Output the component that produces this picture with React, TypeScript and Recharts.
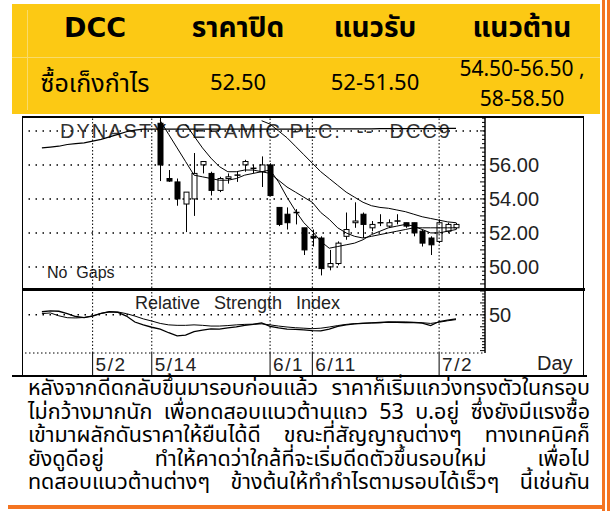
import React from 'react'
import { ComposedChart, LineChart, Line, Bar, XAxis, YAxis, ReferenceLine } from 'recharts'

const FONT_TH = "Tahoma, 'Noto Sans Thai', 'Noto Sans Thai UI', Loma, Garuda, 'Noto Sans', sans-serif"
const FONT_HEAD = "'DejaVu Sans', " + FONT_TH
const FONT_CHART = "'Liberation Sans', Arial, sans-serif"
const YELLOW = '#FCC914'
const ORANGE = '#F47421'

const HEADER = ['DCC', 'ราคาปิด', 'แนวรับ', 'แนวต้าน']
const ROW = ['ซื้อเก็งกำไร', '52.50', '52-51.50']
const RESIST = ['54.50-56.50 ,', '58-58.50']

const TEXT_LINES = [
  'หลังจากดีดกลับขึ้นมารอบก่อนแล้ว ราคาก็เริ่มแกว่งทรงตัวในกรอบ',
  'ไม่กว้างมากนัก เพื่อทดสอบแนวต้านแถว 53 บ.อยู่ ซึ่งยังมีแรงซื้อ',
  'เข้ามาผลักดันราคาให้ยืนได้ดี ขณะที่สัญญาณต่างๆ ทางเทคนิคก็',
  'ยังดูดีอยู่ ทำให้คาดว่าใกล้ที่จะเริ่มดีดตัวขึ้นรอบใหม่ เพื่อไป',
  'ทดสอบแนวต้านต่างๆ ข้างต้นให้ทำกำไรตามรอบได้เร็วๆ นี้เช่นกัน',
]

// trading-day slots on the x axis
const DATE_LABELS = ['5/2', '5/14', '6/1', '6/11', '7/2']
const DATE_INDEX = [8, 15, 29, 34, 49]
const X_DOMAIN = [0, 54.43]

// candles, from slot 16 to 51
const CANDLE_START = 16
const OPEN = [58.45, 55.2, 55.0, 53.7, 54.0, 56.0, 55.5, 54.5, 55.2, 55.4, 56.0, 55.8, 55.6, 56.0, 53.5, 53.1, 53.2, 52.3, 51.8, 51.7, 50.0, 50.2, 51.8, 52.6, 53.1, 52.3, 52.6, 52.4, 52.7, 52.6, 52.6, 52.1, 51.7, 51.5, 52.1, 52.3]
const HIGH = [58.8, 55.7, 55.2, 54.4, 56.7, 56.2, 55.6, 55.3, 55.5, 55.6, 56.3, 56.0, 56.5, 56.1, 53.5, 53.5, 53.4, 52.3, 52.2, 51.8, 51.0, 51.5, 53.2, 53.8, 53.2, 52.7, 53.1, 52.8, 53.1, 52.6, 52.6, 52.2, 51.8, 52.8, 52.6, 52.6]
const LOW = [55.05, 55.0, 53.6, 52.05, 53.0, 55.5, 54.2, 54.4, 54.9, 55.0, 55.6, 55.5, 54.7, 54.2, 52.4, 52.2, 52.5, 50.7, 51.2, 49.5, 49.8, 50.1, 51.6, 52.3, 51.7, 52.1, 52.4, 52.3, 52.5, 52.3, 51.8, 51.2, 50.7, 51.4, 52.0, 52.2]
const CLOSE = [56.0, 55.05, 54.0, 54.4, 55.5, 56.2, 54.5, 55.2, 55.3, 55.4, 56.2, 55.8, 56.0, 54.2, 52.5, 52.6, 53.2, 51.0, 51.7, 49.9, 50.2, 51.4, 52.2, 52.7, 52.5, 52.5, 52.6, 52.6, 52.7, 52.4, 52.0, 51.4, 51.3, 52.6, 52.5, 52.5]

const MA_SHORT = [58.6, 57.8, 57.0, 56.2, 55.4, 55.3, 55.2, 55.1, 55.1, 55.2, 55.4, 55.5, 55.6, 55.7, 55.0, 54.1, 53.3, 52.6, 52.1, 51.5, 51.1, 51.2, 51.3, 51.4, 51.6, 51.9, 52.1, 52.3, 52.4, 52.5, 52.4, 52.2, 52.0, 52.0, 52.1, 52.2]
const MA_MID = [null, null, null, 58.4, 57.7, 57.0, 56.4, 55.9, 55.6, 55.6, 55.7, 55.7, 55.6, 55.5, 55.1, 54.7, 54.4, 54.1, 53.8, 53.2, 52.8, 52.3, 52.0, 51.8, 51.7, 51.8, 51.9, 52.0, 52.1, 52.2, 52.3, 52.3, 52.3, 52.3, 52.3, 52.3]
const MA_LONG = [null, null, null, null, null, null, null, null, null, null, null, null, 58.6, 58.4, 58.0, 57.6, 57.1, 56.6, 56.1, 55.6, 55.2, 54.8, 54.4, 54.1, 53.8, 53.6, 53.5, 53.45, 53.35, 53.25, 53.1, 52.95, 52.85, 52.75, 52.65, 52.6]

// long average and RSI, from slot 2 to 51
const LONG_START = 2
const MA_SLOW = [
  57.0, 57.05, 57.1, 57.2, 57.25, 57.3, 57.4, 57.5, 57.65, 57.8,
  57.95, 58.05, 58.1, 58.1, 58.1, 58.1, 58.1, 58.1, 58.1, 58.1,
  58.1, 58.1, 58.1, 58.1, 58.1, 58.1, 58.1, 58.1, 58.1, 58.1,
  58.1, 58.1, 58.12, 58.12, 58.12, 58.12, 58.12, 58.12, 58.12, 58.12,
  58.14, 58.14, 58.14, 58.14, 58.14, 58.14, 58.14, 58.14, 58.15, 58.15,
]
const RSI = [
  51.3, 51.7, 51.5, 50.5, 49.3, 48.8, 49.5, 50.6, 51.3, 51.0,
  49.5, 47.0, 45.8, 44.8, 44.0, 42.5, 41.2, 41.5, 43.0, 43.6,
  44.1, 44.0, 44.5, 45.0, 45.6, 46.0, 46.6, 45.2, 44.5, 44.0,
  43.9, 43.7, 43.4, 43.3, 44.0, 45.2, 45.8, 46.2, 46.4, 46.6,
  46.8, 47.0, 46.9, 46.8, 46.7, 46.5, 45.5, 47.2, 47.8, 48.3,
]
const RSI_SIGNAL = [
  50.5, 50.8, 49.6, 48.8, 48.7, 48.9, 49.6, 50.6, 51.3, 51.2,
  50.5, 49.5, 48.3, 47.4, 46.4, 45.8, 45.6, 45.6, 45.8, 45.6,
  45.3, 45.3, 45.5, 45.8, 46.0, 46.1, 46.2, 45.8, 45.3, 44.9,
  44.6, 44.4, 44.2, 44.4, 44.9, 45.5, 46.0, 46.3, 46.5, 46.6,
  46.7, 46.9, 47.0, 47.0, 46.9, 46.7, 46.4, 46.9, 47.5, 48.0,
]

const PRICE_DOMAIN = [48.76, 58.76]
const PRICE_GRID = [50, 52, 54, 56, 58]
const PRICE_LABELS = [50, 52, 54, 56]
const RSI_DOMAIN = [34, 60]

const PRICE_TICKS = Array.from({ length: 40 }, (_, k) => 49 + k * 0.25)
const RSI_TICKS = Array.from({ length: 21 }, (_, k) => 35 + k * 1.25)

function buildRows() {
  const rows: any[] = []
  for (let i = 0; i < CANDLE_START + OPEN.length; i++) {
    const c = i - CANDLE_START
    const l = i - LONG_START
    const row: any = { i }
    if (c >= 0) {
      row.o = OPEN[c]; row.h = HIGH[c]; row.l = LOW[c]; row.c = CLOSE[c]
      row.range = [LOW[c], HIGH[c]]
      row.s = MA_SHORT[c]; row.m = MA_MID[c]; row.lg = MA_LONG[c]
    }
    if (l >= 0) {
      row.slow = MA_SLOW[l]; row.rsi = RSI[l]; row.sig = RSI_SIGNAL[l]
    }
    rows.push(row)
  }
  return rows
}

const Candle = (props: any) => {
  const { x, y, width, height, payload } = props
  if (payload == null || payload.o == null) return null
  const { o, h, l, c } = payload
  const top = height < 0 ? y + height : y
  const hh = Math.abs(height)
  const py = (v: number) => top + ((h - v) / (h - l || 1)) * hh
  const cx = Math.round(x + width / 2) + 0.5
  const bTop = py(Math.max(o, c))
  const bBot = py(Math.min(o, c))
  return (
    <g>
      <line x1={cx} x2={cx} y1={top} y2={top + hh} stroke="#000" strokeWidth={1} />
      {o === c ? (
        <line x1={cx - 3} x2={cx + 3} y1={bTop} y2={bTop} stroke="#000" strokeWidth={1.5} />
      ) : (
        <rect x={cx - 2.5} y={bTop} width={5} height={Math.max(bBot - bTop, 1)} fill={c > o ? '#fff' : '#000'} stroke="#000" strokeWidth={1} />
      )}
    </g>
  )
}

const makeSideTick = (side: 'left' | 'right', labels: number[], decimals: number, major: (v: number) => boolean) => (p: any) => {
  const { x, y, payload } = p
  const v = payload.value
  const len = major(v) ? 5 : 3
  const dir = side === 'left' ? 1 : -1
  const show = labels.some((t) => Math.abs(t - v) < 0.001)
  return (
    <g>
      <line x1={x} x2={x + dir * len} y1={y} y2={y} stroke="#000" strokeWidth={1} />
      {show && side === 'right' && (
        <text x={x + 4} y={y} dy={7} fontSize={20} fontFamily={FONT_CHART} fill="#222">{v.toFixed(decimals)}</text>
      )}
    </g>
  )
}

const isWhole = (v: number) => Math.abs(v - Math.round(v)) < 0.01
const priceLeftTick = makeSideTick('left', [], 2, isWhole)
const priceRightTick = makeSideTick('right', PRICE_LABELS, 2, isWhole)
const rsiLeftTick = makeSideTick('left', [], 0, (v) => Math.abs(v % 5) < 0.01)
const rsiRightTick = makeSideTick('right', [50], 0, (v) => Math.abs(v % 5) < 0.01)

const DateTick = ({ x, y, payload }: any) => {
  const k = DATE_INDEX.indexOf(payload.value)
  return (
    <g>
      <line x1={x} x2={x} y1={y} y2={y + 22} stroke="#000" strokeWidth={1} />
      <text x={x + 3} y={y + 18} fontSize={19} fontFamily={FONT_CHART} fill="#222" letterSpacing={1.5}>{DATE_LABELS[k]}</text>
    </g>
  )
}

const abs = (left: number, top: number, extra: any = {}) => ({ position: 'absolute' as const, left, top, ...extra })

export default function App() {
  const rows = buildRows()
  const colCenters = [95, 238, 375, 522]
  const rowSizes = [25, 22, 22]
  return (
    <div style={{ position: 'absolute', left: 0, top: 0, width: 612, height: 511, background: '#fff', overflow: 'hidden' }}>
      {/* header table */}
      <div style={abs(12, 4, { width: 588, height: 110, background: YELLOW })} />
      <div style={abs(12, 57, { width: 588, height: 1, background: '#F9DB6A' })} />
      <div style={abs(27, 10, { width: 1, height: 100, background: '#F9DB6A' })} />
      {HEADER.map((t, k) => (
        <div key={t} style={abs(colCenters[k] - 80, 8, { width: 160, height: 40, lineHeight: '40px', textAlign: 'center', fontFamily: FONT_HEAD, fontWeight: 700, fontSize: k === 0 ? 27 : 28, color: '#000' })}>{t}</div>
      ))}
      {ROW.map((t, k) => (
        <div key={t} style={abs(colCenters[k] - 80, 64, { width: 160, height: 40, lineHeight: '40px', textAlign: 'center', fontFamily: FONT_TH, fontSize: rowSizes[k], color: '#000' })}>{t}</div>
      ))}
      <div style={abs(colCenters[3] - 80, 55, { width: 160, lineHeight: '30px', textAlign: 'center', fontFamily: FONT_TH, fontSize: 21, color: '#000' })}>
        {RESIST.map((t) => <div key={t}>{t}</div>)}
      </div>

      {/* chart frame */}
      <div style={abs(22, 116, { width: 562, height: 259, borderLeft: '1px solid #000', borderTop: '2px solid #000', borderRight: '1px solid #000', boxSizing: 'border-box' })} />
      <div style={abs(60, 120, { fontFamily: FONT_CHART, fontSize: 20, letterSpacing: 2, color: '#333', whiteSpace: 'pre' })}>DYNASTY CERAMIC PLC.  --  DCC9</div>
      <div style={abs(47, 264, { fontFamily: FONT_CHART, fontSize: 16, color: '#222', whiteSpace: 'pre' })}>No  Gaps</div>
      <div style={abs(135, 293, { fontFamily: FONT_CHART, fontSize: 18, color: '#222', wordSpacing: 9, whiteSpace: 'pre' })}>Relative Strength Index</div>
      <div style={abs(537, 352, { fontFamily: FONT_CHART, fontSize: 20, color: '#222' })}>Day</div>

      <div style={abs(22, 117)}>
        <ComposedChart width={563} height={172} data={rows} margin={{ top: 1, right: 0, bottom: 1, left: 3 }}>
          <XAxis dataKey="i" type="number" domain={X_DOMAIN} allowDataOverflow hide />
          <YAxis yAxisId="l" orientation="left" width={0} domain={PRICE_DOMAIN} allowDataOverflow ticks={PRICE_TICKS} interval={0} tickSize={0} tickMargin={0} tickLine={false} tick={priceLeftTick} axisLine={{ stroke: '#000' }} />
          <YAxis yAxisId="r" orientation="right" width={100} domain={PRICE_DOMAIN} allowDataOverflow ticks={PRICE_TICKS} interval={0} tickSize={0} tickMargin={0} tickLine={false} tick={priceRightTick} axisLine={{ stroke: '#000', strokeWidth: 1.5 }} />
          {PRICE_GRID.map((v) => (
            <ReferenceLine key={'h' + v} yAxisId="r" y={v} stroke="#000" strokeWidth={1.5} strokeDasharray="1.5 5.5" />
          ))}
          {DATE_INDEX.map((d) => (
            <ReferenceLine key={'v' + d} yAxisId="r" x={d} stroke="#000" strokeWidth={1} strokeDasharray="1.5 2" />
          ))}
          <Line yAxisId="r" dataKey="slow" stroke="#000" strokeWidth={1.2} dot={false} isAnimationActive={false} type="linear" />
          <Line yAxisId="r" dataKey="lg" stroke="#000" strokeWidth={1} dot={false} isAnimationActive={false} type="linear" />
          <Line yAxisId="r" dataKey="m" stroke="#000" strokeWidth={1} dot={false} isAnimationActive={false} type="linear" />
          <Line yAxisId="r" dataKey="s" stroke="#000" strokeWidth={1} dot={false} isAnimationActive={false} type="linear" />
          <Bar yAxisId="r" dataKey="range" barSize={5} shape={Candle} isAnimationActive={false} />
        </ComposedChart>
      </div>
      <div style={abs(22, 288, { width: 563, height: 3, background: '#000' })} />

      <div style={abs(22, 290)}>
        <LineChart width={563} height={85} data={rows} margin={{ top: 1, right: 0, bottom: 0, left: 3 }}>
          <XAxis dataKey="i" type="number" domain={X_DOMAIN} allowDataOverflow ticks={DATE_INDEX} interval={0} height={22} tickSize={0} tickMargin={0} tickLine={false} tick={DateTick} axisLine={{ stroke: '#000', strokeDasharray: '1.5 2.5' }} />
          <YAxis yAxisId="l" orientation="left" width={0} domain={RSI_DOMAIN} allowDataOverflow ticks={RSI_TICKS} interval={0} tickSize={0} tickMargin={0} tickLine={false} tick={rsiLeftTick} axisLine={{ stroke: '#000' }} />
          <YAxis yAxisId="r" orientation="right" width={100} domain={RSI_DOMAIN} allowDataOverflow ticks={RSI_TICKS} interval={0} tickSize={0} tickMargin={0} tickLine={false} tick={rsiRightTick} axisLine={{ stroke: '#000', strokeWidth: 1.5 }} />
          <ReferenceLine yAxisId="r" y={50} stroke="#000" strokeWidth={1.5} strokeDasharray="1.5 5.5" />
          {DATE_INDEX.map((d) => (
            <ReferenceLine key={'rv' + d} yAxisId="r" x={d} stroke="#000" strokeWidth={1} strokeDasharray="1.5 2" />
          ))}
          <Line yAxisId="r" dataKey="sig" stroke="#000" strokeWidth={1} dot={false} isAnimationActive={false} type="linear" />
          <Line yAxisId="r" dataKey="rsi" stroke="#000" strokeWidth={1.3} dot={false} isAnimationActive={false} type="linear" />
        </LineChart>
      </div>
      <div style={abs(12, 375, { width: 575, height: 2, background: '#000' })} />

      {/* commentary, one block with a break after every line */}
      <div style={abs(28, 377, { width: 562, lineHeight: '23.5px', fontFamily: FONT_TH, fontSize: 21.5, color: '#000', textAlign: 'justify', textAlignLast: 'justify', whiteSpace: 'nowrap' })}>
        {TEXT_LINES.map((t, k) => (
          <React.Fragment key={t}>
            {t}
            {k < TEXT_LINES.length - 1 && <br />}
          </React.Fragment>
        ))}
      </div>

      {/* orange border */}
      <div style={abs(602, 0, { width: 3, height: 511, background: ORANGE })} />
      <div style={abs(607, 0, { width: 3, height: 511, background: ORANGE })} />
      <div style={abs(8, 505, { width: 597, height: 4, background: ORANGE })} />
    </div>
  )
}
